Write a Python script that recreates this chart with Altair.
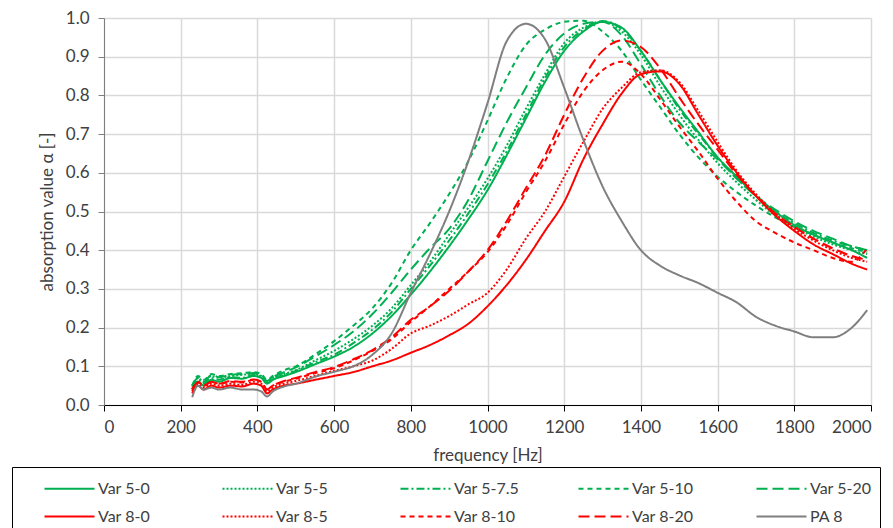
import altair as alt
import pandas as pd

freq = [230, 245, 260, 280, 300, 330, 360, 390, 410, 425, 440, 470, 500, 550, 600,
        650, 700, 750, 800, 850, 900, 950, 1000, 1050, 1100, 1150, 1200, 1250, 1300,
        1350, 1400, 1450, 1500, 1550, 1600, 1650, 1700, 1750, 1800, 1850, 1900, 1950, 1990]

var_5_0 = [0.04, 0.06, 0.05, 0.065, 0.06, 0.07, 0.068, 0.075, 0.07, 0.055, 0.065, 0.075, 0.085, 0.105, 0.125,
           0.15, 0.185, 0.23, 0.285, 0.345, 0.41, 0.48, 0.555, 0.645, 0.74, 0.835, 0.915, 0.965, 0.99,
           0.975, 0.915, 0.84, 0.77, 0.705, 0.64, 0.59, 0.54, 0.5, 0.465, 0.44, 0.42, 0.4, 0.38]
var_5_5 = [0.05, 0.07, 0.06, 0.075, 0.07, 0.075, 0.078, 0.08, 0.075, 0.06, 0.07, 0.08, 0.09, 0.115, 0.14,
           0.17, 0.205, 0.25, 0.31, 0.37, 0.44, 0.51, 0.585, 0.67, 0.765, 0.855, 0.935, 0.975, 0.99,
           0.965, 0.905, 0.825, 0.75, 0.685, 0.625, 0.575, 0.53, 0.49, 0.46, 0.435, 0.415, 0.4, 0.39]
var_5_75 = [0.045, 0.065, 0.055, 0.07, 0.065, 0.072, 0.07, 0.078, 0.072, 0.058, 0.068, 0.078, 0.088, 0.11, 0.13,
            0.16, 0.195, 0.24, 0.3, 0.36, 0.425, 0.495, 0.57, 0.655, 0.75, 0.845, 0.925, 0.97, 0.992,
            0.972, 0.915, 0.84, 0.765, 0.7, 0.64, 0.585, 0.54, 0.5, 0.47, 0.445, 0.425, 0.41, 0.4]
var_5_10 = [0.05, 0.075, 0.065, 0.08, 0.075, 0.08, 0.082, 0.085, 0.08, 0.065, 0.075, 0.09, 0.1, 0.13, 0.165,
            0.205, 0.25, 0.315, 0.4, 0.47, 0.545, 0.63, 0.735, 0.845, 0.93, 0.97, 0.99, 0.993, 0.965,
            0.915, 0.84, 0.77, 0.7, 0.64, 0.59, 0.55, 0.515, 0.485, 0.46, 0.44, 0.42, 0.405, 0.395]
var_5_20 = [0.05, 0.07, 0.06, 0.078, 0.072, 0.078, 0.08, 0.083, 0.078, 0.062, 0.072, 0.085, 0.097, 0.125, 0.155,
            0.19, 0.235, 0.29, 0.35, 0.405, 0.455, 0.53, 0.63, 0.73, 0.82, 0.905, 0.96, 0.985, 0.99,
            0.955, 0.88, 0.8, 0.73, 0.68, 0.635, 0.585, 0.54, 0.505, 0.475, 0.45, 0.43, 0.41, 0.40]
var_8_0 = [0.03, 0.05, 0.04, 0.05, 0.045, 0.05, 0.048, 0.055, 0.05, 0.03, 0.04, 0.05, 0.055, 0.065, 0.075,
           0.085, 0.1, 0.115, 0.135, 0.155, 0.18, 0.21, 0.255, 0.31, 0.375, 0.45, 0.525, 0.635, 0.725,
           0.805, 0.855, 0.862, 0.83, 0.75, 0.67, 0.6, 0.54, 0.49, 0.45, 0.415, 0.39, 0.365, 0.35]
var_8_5 = [0.035, 0.055, 0.045, 0.055, 0.05, 0.055, 0.052, 0.06, 0.055, 0.035, 0.045, 0.055, 0.062, 0.075, 0.088,
           0.1, 0.115, 0.145, 0.185, 0.205, 0.23, 0.26, 0.29, 0.35, 0.43, 0.5, 0.59, 0.68, 0.765,
           0.82, 0.86, 0.865, 0.835, 0.76, 0.68, 0.605, 0.545, 0.495, 0.455, 0.425, 0.4, 0.38, 0.37]
var_8_10 = [0.04, 0.06, 0.05, 0.06, 0.055, 0.06, 0.058, 0.065, 0.06, 0.04, 0.05, 0.06, 0.068, 0.082, 0.095,
            0.115, 0.14, 0.17, 0.215, 0.255, 0.3, 0.345, 0.395, 0.465, 0.55, 0.63, 0.725, 0.81, 0.865,
            0.887, 0.855, 0.79, 0.72, 0.655, 0.585, 0.525, 0.475, 0.445, 0.42, 0.4, 0.38, 0.37, 0.405]
var_8_20 = [0.04, 0.058, 0.05, 0.06, 0.055, 0.062, 0.06, 0.066, 0.06, 0.04, 0.05, 0.062, 0.07, 0.085, 0.098,
            0.118, 0.142, 0.175, 0.22, 0.255, 0.295, 0.345, 0.4, 0.475, 0.56, 0.645, 0.75, 0.845, 0.915,
            0.942, 0.925, 0.87, 0.795, 0.725, 0.66, 0.595, 0.54, 0.495, 0.46, 0.43, 0.405, 0.385, 0.375]
pa_8 = [0.02, 0.05, 0.04, 0.045, 0.04, 0.045, 0.04, 0.04, 0.035, 0.022, 0.035, 0.048, 0.055, 0.073, 0.086,
        0.1, 0.13, 0.185, 0.29, 0.39, 0.5, 0.63, 0.78, 0.94, 0.985, 0.945, 0.82, 0.685, 0.565,
        0.475, 0.4, 0.36, 0.335, 0.315, 0.29, 0.265, 0.228, 0.205, 0.19, 0.175, 0.175, 0.2, 0.245]

series_names = ["Var 5-0", "Var 5-5", "Var 5-7.5", "Var 5-10", "Var 5-20",
                "Var 8-0", "Var 8-5", "Var 8-10", "Var 8-20", "PA 8"]
series_values = [var_5_0, var_5_5, var_5_75, var_5_10, var_5_20,
                 var_8_0, var_8_5, var_8_10, var_8_20, pa_8]
series_colors = ["#00B050", "#00B050", "#00B050", "#00B050", "#00B050",
                 "#FF0000", "#FF0000", "#FF0000", "#FF0000", "#7F7F7F"]
series_dashes = [[1, 0], [2, 2], [8, 3, 2, 3], [5, 4], [11, 5],
                 [1, 0], [2, 2], [5, 4], [11, 5], [1, 0]]

x_ticks = list(range(0, 2001, 200))
y_ticks = [0.0, 0.1, 0.2, 0.3, 0.4, 0.5, 0.6, 0.7, 0.8, 0.9, 1.0]

rows = []
for name, vals in zip(series_names, series_values):
    assert len(vals) == len(freq), name
    for f, v in zip(freq, vals):
        rows.append({"frequency": f, "alpha": v, "series": name})
df = pd.DataFrame(rows)

FONT = "Lato"
TXT = "#404040"

legend = alt.Legend(
    orient="none", legendX=-92, legendY=449, direction="horizontal", columns=5,
    title=" ", titleOrient="left", titlePadding=36, titleFontSize=14,
    symbolType="M-2,0H2", symbolSize=625, symbolStrokeWidth=2,
    labelFont=FONT, labelFontSize=16, labelColor=TXT, labelOffset=15,
    gridAlign="all", columnPadding=54, rowPadding=6,
    strokeColor="black", padding=8,
)

chart = alt.Chart(df).mark_line(strokeWidth=2, interpolate="monotone", clip=True).encode(
    x=alt.X("frequency:Q", scale=alt.Scale(domain=[0, 2000], nice=False),
            axis=alt.Axis(values=x_ticks, title="frequency [Hz]", format="d")),
    y=alt.Y("alpha:Q", scale=alt.Scale(domain=[0, 1], nice=False),
            axis=alt.Axis(values=y_ticks, title="absorption value α [-]", format=".1f")),
    color=alt.Color("series:N", sort=series_names,
                    scale=alt.Scale(domain=series_names, range=series_colors), legend=legend),
    strokeDash=alt.StrokeDash("series:N", sort=series_names,
                              scale=alt.Scale(domain=series_names, range=series_dashes), legend=legend),
    order=alt.Order("frequency:Q"),
).properties(
    width=767, height=387,
    autosize=alt.AutoSizeParams(type="none"),
    padding={"left": 104, "top": 18, "right": 22, "bottom": 123},
).configure_view(stroke=None).configure_axis(
    labelFont=FONT, labelFontSize=17, labelColor=TXT,
    titleFont=FONT, titleFontSize=17, titleColor=TXT, titleFontWeight="normal",
    gridColor="#D9D9D9", gridWidth=1.5,
    domainColor="black", tickColor="black", tickSize=6,
).configure_axisX(
    labelPadding=8, titlePadding=12,
).configure_axisY(
    labelPadding=9, titlePadding=9, domainColor="#7F7F7F", tickColor="#7F7F7F",
)

chart.save("out.html", embed_options={"renderer": "svg", "actions": False})
